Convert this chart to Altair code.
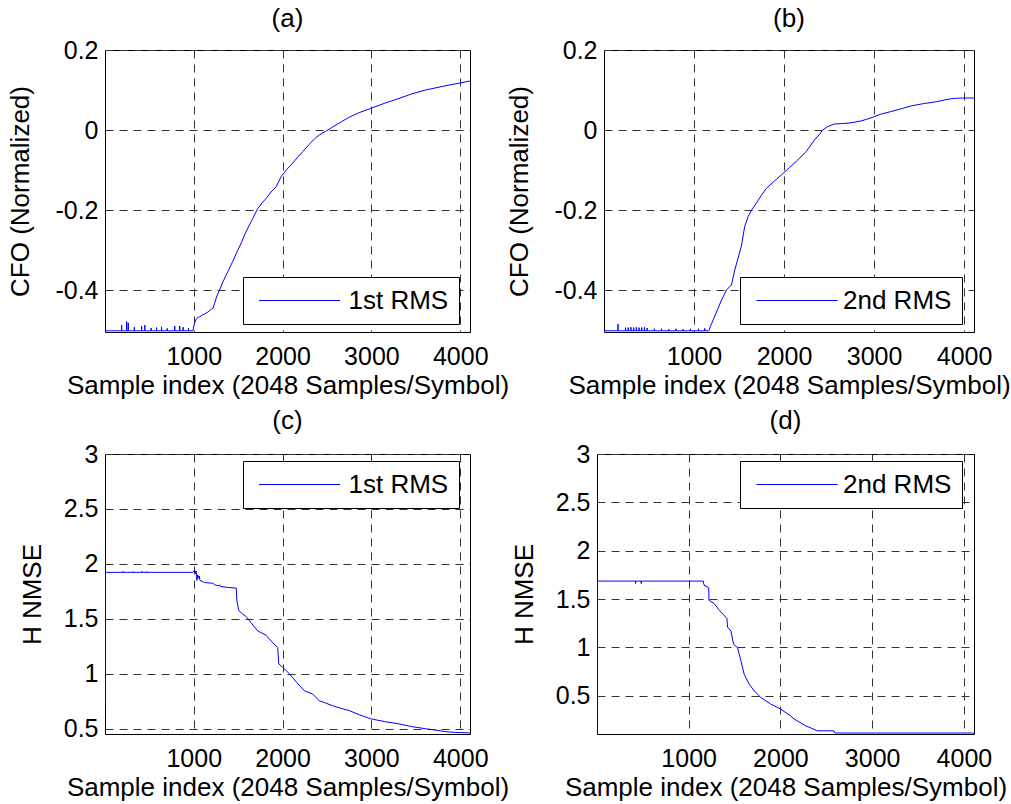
import altair as alt
import pandas as pd

FONT = "Liberation Sans, Arial, Helvetica, sans-serif"

X_TITLE = "Sample index (2048 Samples/Symbol)"
X_TICKS = [1000, 2000, 3000, 4000]
X_DOMAIN = [1, 4110]

CFO_TICKS = [-0.4, -0.2, 0, 0.2]
CFO_DOMAIN = [-0.505, 0.2]
NMSE_TICKS = [0.5, 1, 1.5, 2, 2.5, 3]
NMSE_C_DOMAIN = [0.452, 3]
NMSE_D_DOMAIN = [0.105, 3]

# (a) CFO, 1st RMS : (sample index, normalized CFO)
a_points = [
    (1, -0.502), (60, -0.502), (120, -0.502),
    (187, -0.502), (188, -0.488), (190, -0.502),
    (243, -0.502), (244, -0.479), (246, -0.502),
    (261, -0.502), (262, -0.482), (264, -0.502),
    (330, -0.502), (331, -0.493), (333, -0.502),
    (412, -0.502), (413, -0.490), (415, -0.502),
    (449, -0.502), (450, -0.488), (452, -0.502),
    (520, -0.502), (521, -0.495), (523, -0.502),
    (580, -0.502), (581, -0.494), (583, -0.502),
    (636, -0.502), (637, -0.492), (639, -0.502),
    (700, -0.502), (701, -0.496), (703, -0.502),
    (785, -0.502), (786, -0.490), (788, -0.502),
    (841, -0.502), (842, -0.490), (844, -0.502),
    (879, -0.502), (880, -0.493), (882, -0.502),
    (940, -0.502), (941, -0.495), (943, -0.502),
    (992, -0.502), (1000, -0.490), (1011, -0.482), (1030, -0.472),
    (1050, -0.468), (1066, -0.467), (1100, -0.462), (1123, -0.460),
    (1160, -0.455), (1198, -0.448), (1216, -0.446), (1235, -0.433),
    (1260, -0.415), (1291, -0.400), (1330, -0.379), (1384, -0.354),
    (1440, -0.328), (1496, -0.300), (1530, -0.285), (1572, -0.2625),
    (1620, -0.240), (1665, -0.221), (1721, -0.196), (1770, -0.182),
    (1815, -0.171), (1870, -0.155), (1927, -0.142), (1983, -0.117),
    (2050, -0.098), (2114, -0.083), (2170, -0.068), (2226, -0.054),
    (2300, -0.036), (2360, -0.022), (2413, -0.0125), (2480, -0.004),
    (2563, 0.0075), (2650, 0.019), (2750, 0.032), (2870, 0.044),
    (2993, 0.054), (3150, 0.067), (3311, 0.079), (3450, 0.090),
    (3610, 0.100), (3800, 0.109), (3984, 0.117), (4110, 0.1225),
]

# (b) CFO, 2nd RMS
b_points = [
    (1, -0.502), (80, -0.502), (155, -0.502), (156, -0.485), (158, -0.502),
    (239, -0.502), (240, -0.494), (242, -0.502),
    (269, -0.502), (270, -0.494), (272, -0.502),
    (299, -0.502), (300, -0.493), (302, -0.502),
    (329, -0.502), (330, -0.494), (332, -0.502),
    (359, -0.502), (360, -0.493), (362, -0.502),
    (389, -0.502), (390, -0.494), (392, -0.502),
    (419, -0.502), (420, -0.494), (422, -0.502),
    (449, -0.502), (450, -0.493), (452, -0.502),
    (479, -0.502), (480, -0.495), (482, -0.502),
    (559, -0.502), (560, -0.497), (562, -0.502),
    (639, -0.502), (640, -0.497), (642, -0.502),
    (719, -0.502), (720, -0.498), (722, -0.502),
    (799, -0.502), (800, -0.497), (802, -0.502),
    (879, -0.502), (880, -0.498), (882, -0.502),
    (959, -0.502), (960, -0.497), (962, -0.502),
    (1049, -0.502), (1050, -0.497), (1052, -0.502),
    (1119, -0.502), (1120, -0.496), (1122, -0.502),
    (1165, -0.502), (1185, -0.490), (1213, -0.475), (1260, -0.450),
    (1306, -0.425), (1361, -0.400), (1416, -0.3875), (1453, -0.350),
    (1490, -0.320), (1527, -0.290), (1563, -0.242), (1600, -0.217),
    (1640, -0.200), (1693, -0.183), (1750, -0.163), (1804, -0.146),
    (1880, -0.130), (1970, -0.1125), (2060, -0.094), (2153, -0.075),
    (2246, -0.054), (2290, -0.040), (2338, -0.025), (2390, -0.012),
    (2430, 0.000), (2480, 0.008), (2559, 0.015), (2650, 0.016),
    (2743, 0.018), (2854, 0.0225), (2920, 0.027), (2987, 0.032),
    (3080, 0.040), (3186, 0.046), (3300, 0.053), (3407, 0.060),
    (3550, 0.066), (3702, 0.071), (3800, 0.076), (3886, 0.079),
    (4000, 0.080), (4110, 0.080),
]

# (c) H NMSE, 1st RMS
c_points = [
    (1, 0.72), (3, 1.923),
    (202, 1.923), (203, 1.932), (205, 1.923),
    (314, 1.923), (315, 1.930), (317, 1.923),
    (415, 1.923), (416, 1.932), (418, 1.923),
    (471, 1.923), (472, 1.930), (474, 1.923),
    (990, 1.923), (1000, 1.935), (1015, 1.940), (1020, 1.910),
    (1028, 1.935), (1035, 1.850), (1045, 1.900), (1052, 1.870),
    (1062, 1.890), (1070, 1.850), (1123, 1.830), (1200, 1.825),
    (1216, 1.823), (1235, 1.810), (1280, 1.800), (1291, 1.810),
    (1300, 1.795), (1380, 1.786), (1479, 1.780), (1485, 1.665),
    (1508, 1.574), (1550, 1.545), (1591, 1.520), (1650, 1.460),
    (1721, 1.390), (1815, 1.350), (1880, 1.290), (1945, 1.240),
    (1957, 1.090), (2000, 1.060), (2077, 1.000), (2160, 0.920),
    (2245, 0.846), (2338, 0.816), (2413, 0.755), (2480, 0.735),
    (2563, 0.710), (2650, 0.687), (2750, 0.665), (2870, 0.625),
    (2993, 0.590), (3150, 0.565), (3311, 0.544), (3450, 0.520),
    (3610, 0.500), (3700, 0.490), (3835, 0.473), (3950, 0.466),
    (4110, 0.462),
]

# (d) H NMSE, 2nd RMS
d_points = [
    (1, 0.105), (3, 1.686),
    (420, 1.686), (421, 1.660), (423, 1.686),
    (482, 1.686), (483, 1.660), (485, 1.686),
    (1160, 1.686), (1163, 1.660), (1175, 1.635), (1189, 1.635),
    (1218, 1.617), (1222, 1.487), (1280, 1.452), (1334, 1.384),
    (1417, 1.300), (1424, 1.210), (1461, 1.170), (1489, 1.033),
    (1533, 0.998), (1570, 0.860), (1605, 0.724), (1660, 0.620),
    (1714, 0.551), (1787, 0.482), (1895, 0.414), (2004, 0.362),
    (2113, 0.290), (2149, 0.260), (2276, 0.190), (2402, 0.138),
    (2583, 0.138), (2594, 0.115), (4110, 0.115),
]


def panel(points, series, title, title_off, ydomain, yticks, ytitle, ytitle_pad,
          width, height, lx, ly, sym_off, lab_off):
    df = pd.DataFrame(points, columns=["sample", "value"])
    df["series"] = series
    return alt.Chart(df).mark_line(strokeWidth=1, clip=True).encode(
        x=alt.X("sample:Q",
                scale=alt.Scale(domain=X_DOMAIN, nice=False, zero=False),
                axis=alt.Axis(values=X_TICKS, title=X_TITLE, labelPadding=12,
                              titlePadding=3, labelFlush=False,
                              labelExpr="toString(datum.value)")),
        y=alt.Y("value:Q",
                scale=alt.Scale(domain=ydomain, nice=False, zero=False),
                axis=alt.Axis(values=yticks, title=ytitle, labelPadding=7,
                              titlePadding=ytitle_pad,
                              labelExpr="toString(datum.value)")),
        color=alt.Color("series:N",
                        scale=alt.Scale(domain=[series], range=["#0000ff"]),
                        legend=alt.Legend(orient="none", legendX=lx, legendY=ly,
                                          title=None, padding=10,
                                          strokeColor="black", fillColor="white",
                                          symbolType="stroke", symbolSize=6561,
                                          symbolStrokeWidth=1, symbolOffset=sym_off,
                                          labelOffset=lab_off, labelFontSize=26,
                                          labelFont=FONT, labelColor="black",
                                          labelLimit=0, clipHeight=27)),
    ).properties(width=width, height=height,
                 title=alt.TitleParams(title, offset=title_off))


pa = panel(a_points, "1st RMS", "(a)", 6, CFO_DOMAIN, CFO_TICKS, "CFO (Normalized)", 21,
           365, 282, 138, 227, 5.5, 8)
pb = panel(b_points, "2nd RMS", "(b)", 6, CFO_DOMAIN, CFO_TICKS, "CFO (Normalized)", 21,
           370, 282, 136, 227, 6, 5)
pc = panel(c_points, "1st RMS", "(c)", 8.5, NMSE_C_DOMAIN, NMSE_TICKS, "H NMSE", 18,
           365, 280, 138, 7, 5.5, 8)
pd_ = panel(d_points, "2nd RMS", "(d)", 8.5, NMSE_D_DOMAIN, NMSE_TICKS, "H NMSE", 18,
            377, 280, 143, 7, 6, 5)

res = dict(x="independent", y="independent", color="independent")
row1 = alt.hconcat(pa, pb, spacing=134, bounds="flush").resolve_scale(**res)
row2 = alt.hconcat(pc, pd_, spacing=127, bounds="flush").resolve_scale(**res)

chart = alt.vconcat(row1, row2, spacing=8).resolve_scale(**res).properties(
    padding={"left": 7, "top": 5, "right": 0, "bottom": 0},
    background="white",
).configure_view(
    stroke="black", strokeWidth=1, fill="white"
).configure_axis(
    domain=False, ticks=False, grid=True, gridColor="#333333", gridDash=[8, 6],
    gridWidth=1, gridOpacity=1, labelFont=FONT, labelFontSize=25, labelColor="black",
    titleFont=FONT, titleFontSize=26, titleFontWeight="normal", titleColor="black",
).configure_title(
    font=FONT, fontSize=26, fontWeight="normal", color="black", anchor="middle", frame="group",
)

chart.save("out.html", embed_options={"renderer": "svg", "actions": False})
